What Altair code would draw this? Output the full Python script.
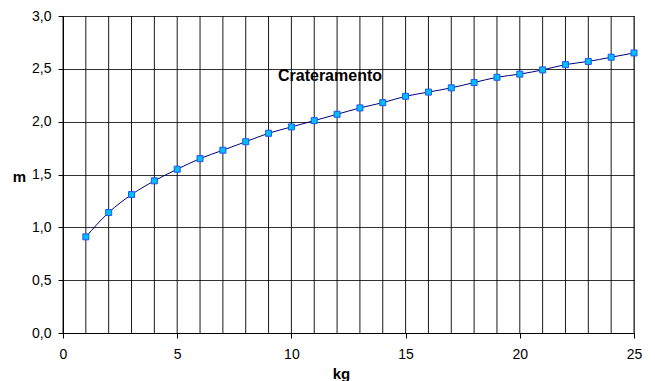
import altair as alt
import pandas as pd

kg = list(range(1, 26))
m = [0.91, 1.14, 1.31, 1.44, 1.55, 1.65, 1.73, 1.81, 1.89, 1.95,
     2.01, 2.07, 2.13, 2.18, 2.24, 2.28, 2.32, 2.37, 2.42, 2.45,
     2.49, 2.54, 2.57, 2.61, 2.65]
x_ticks = [0, 5, 10, 15, 20, 25]
x_grid = list(range(0, 26))
y_ticks = [0, 0.5, 1, 1.5, 2, 2.5, 3]
title_text = "Crateramento"
x_title = "kg"
y_title = "m"

df = pd.DataFrame({"kg": kg, "m": m})
grid_df = pd.DataFrame({"kg": x_grid})
FONT = "Liberation Sans"

xscale = alt.Scale(domain=[0, 25], nice=False)
yscale = alt.Scale(domain=[0, 3], nice=False)

x_axis = alt.Axis(values=x_ticks, format="d", labelOverlap=False,
                  tickSize=5, tickColor="black", domainColor="black",
                  grid=False,
                  labelFont=FONT, labelFontSize=14, labelColor="black", labelPadding=9,
                  labelFlush=False,
                  title=x_title, titleFont=FONT, titleFontSize=15, titleFontWeight="bold",
                  titleX=278, titleY=40, titleBaseline="middle", titleAlign="center")
y_axis = alt.Axis(values=y_ticks, labelOverlap=False,
                  labelExpr="replace(format(datum.value, '.1f'), '.', ',')",
                  tickSize=5, tickColor="black", domainColor="black",
                  grid=True, gridColor="#333333", gridWidth=1,
                  labelFont=FONT, labelFontSize=14, labelColor="black", labelPadding=7,
                  title=y_title, titleFont=FONT, titleFontSize=15, titleFontWeight="bold",
                  titleAngle=0, titleX=-44, titleY=160, titleAlign="center",
                  titleBaseline="middle")

vgrid = alt.Chart(grid_df).mark_rule(color="#000000", strokeWidth=1, opacity=0.9).encode(
    x=alt.X("kg:Q", scale=xscale, axis=x_axis))
line = alt.Chart(df).mark_line(color="#000080", strokeWidth=1, interpolate="monotone").encode(
    x=alt.X("kg:Q", scale=xscale, axis=x_axis),
    y=alt.Y("m:Q", scale=yscale, axis=y_axis))
pts = alt.Chart(df).mark_point(shape="square", filled=True, size=36, fill="#00BFFF",
                               stroke="#2255EE", strokeWidth=1, opacity=1).encode(
    x=alt.X("kg:Q", scale=xscale, axis=x_axis),
    y=alt.Y("m:Q", scale=yscale, axis=y_axis))
ttl = alt.Chart(pd.DataFrame({"t": [title_text]})).mark_text(
    font=FONT, fontSize=16, fontWeight="bold", color="black", align="center", baseline="middle"
).encode(text="t:N", x=alt.value(267), y=alt.value(60))

chart = alt.layer(vgrid, line, pts, ttl).properties(
    width=571, height=317,
    padding={"left": 63, "top": 16, "right": 21, "bottom": 48},
    autosize="none", background="white"
).configure_view(stroke="#808080", strokeWidth=1)

chart.save("out.html", embed_options={"renderer": "svg", "actions": False})
